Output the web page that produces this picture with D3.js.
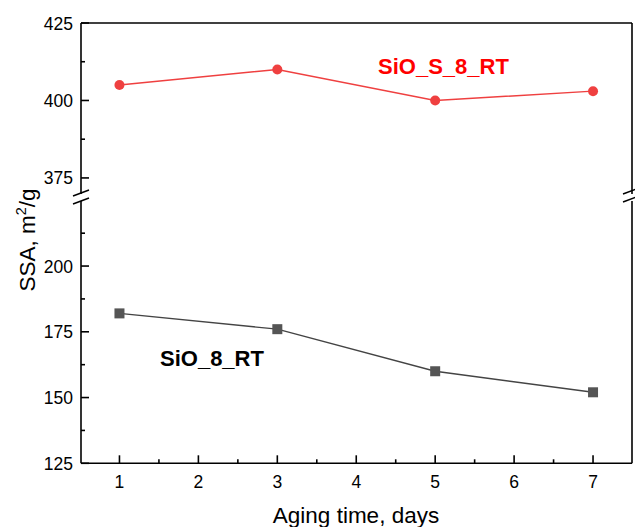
<!DOCTYPE html>
<html><head><meta charset="utf-8">
<script src="https://cdn.jsdelivr.net/npm/d3@7"></script>
<style>body{margin:0;background:#fff}svg{display:block}text{font-family:"Liberation Sans",Arial,sans-serif}</style>
</head><body><svg id="c" width="635" height="527"></svg>
<script>
const days = [1, 3, 5, 7];
const sioS8 = [405, 410, 400, 403];
const sio8 = [182, 176, 160, 152];
const xTicks = [1, 2, 3, 4, 5, 6, 7];
const yTicksUpper = [375, 400, 425];
const yTicksLower = [125, 150, 175, 200];

const svg = d3.select("#c");
const L = 81, R = 632;
const x = d3.scaleLinear().domain([0.5, 7.5]).range([80, 632.5]);
const yU = d3.scaleLinear().domain([368.2, 425]).range([199, 23]);
const yL = d3.scaleLinear().domain([225, 125]).range([200.3, 463.3]);
const yBot = 463.3, yTop = 23;

const ax = svg.append("g").attr("stroke", "#000").attr("stroke-width", 1.6).attr("fill", "none");
ax.append("line").attr("x1", L).attr("x2", R).attr("y1", yBot).attr("y2", yBot);
ax.append("line").attr("x1", L).attr("x2", R).attr("y1", yTop).attr("y2", yTop);
[L, R].forEach(px => {
  ax.append("line").attr("x1", px).attr("x2", px).attr("y1", yTop).attr("y2", 194);
  ax.append("line").attr("x1", px).attr("x2", px).attr("y1", 201).attr("y2", yBot);
});
[[L, 197], [R - 1, 195]].forEach(([px, py]) => {
  [-4, 4].forEach(d => {
    ax.append("line").attr("x1", px - 8).attr("x2", px + 8)
      .attr("y1", py + d + 3).attr("y2", py + d - 3);
  });
});
const minorX = d3.range(1.5, 7.5, 1);
xTicks.forEach(t => ax.append("line").attr("x1", x(t)).attr("x2", x(t)).attr("y1", yBot).attr("y2", yBot - 8));
minorX.forEach(t => ax.append("line").attr("x1", x(t)).attr("x2", x(t)).attr("y1", yBot).attr("y2", yBot - 4));
yTicksUpper.forEach(t => ax.append("line").attr("x1", L).attr("x2", L + 8).attr("y1", yU(t)).attr("y2", yU(t)));
[387.5, 412.5].forEach(t => ax.append("line").attr("x1", L).attr("x2", L + 4).attr("y1", yU(t)).attr("y2", yU(t)));
yTicksLower.forEach(t => ax.append("line").attr("x1", L).attr("x2", L + 8).attr("y1", yL(t)).attr("y2", yL(t)));
[137.5, 162.5, 187.5, 212.5].forEach(t => ax.append("line").attr("x1", L).attr("x2", L + 4).attr("y1", yL(t)).attr("y2", yL(t)));

const lab = svg.append("g").attr("font-size", 17.5).attr("fill", "#000");
xTicks.forEach(t => lab.append("text").attr("x", x(t)).attr("y", 488).attr("text-anchor", "middle").text(t));
yTicksUpper.forEach(t => lab.append("text").attr("x", L - 8).attr("y", yU(t) + 6.5).attr("text-anchor", "end").text(t));
yTicksLower.forEach(t => lab.append("text").attr("x", L - 8).attr("y", yL(t) + 6.5).attr("text-anchor", "end").text(t));

svg.append("text").attr("x", 356).attr("y", 523).attr("text-anchor", "middle").attr("font-size", 22.5).text("Aging time, days");
const yt = svg.append("text").attr("transform", "translate(35,240) rotate(-90)").attr("text-anchor", "middle").attr("font-size", 22.5);
yt.append("tspan").text("SSA, m");
yt.append("tspan").attr("font-size", 14.5).attr("dy", -9).text("2");
yt.append("tspan").attr("dy", 9).text("/g");

const red = "#ef4040", gray = "#444";
const lineU = d3.line().x((d, i) => x(days[i])).y(d => yU(d));
const lineL = d3.line().x((d, i) => x(days[i])).y(d => yL(d));
svg.append("path").attr("d", lineU(sioS8)).attr("fill", "none").attr("stroke", red).attr("stroke-width", 1.4);
svg.selectAll(".rd").data(sioS8).join("circle").attr("cx", (d, i) => x(days[i])).attr("cy", d => yU(d)).attr("r", 5).attr("fill", red);
svg.append("path").attr("d", lineL(sio8)).attr("fill", "none").attr("stroke", gray).attr("stroke-width", 1.4);
svg.selectAll(".sq").data(sio8).join("rect").attr("x", (d, i) => x(days[i]) - 5).attr("y", d => yL(d) - 5).attr("width", 10).attr("height", 10).attr("fill", "#555");

svg.append("text").attr("x", 378).attr("y", 74).attr("font-size", 22).attr("font-weight", "bold").attr("fill", "#ff0000").text("SiO_S_8_RT");
svg.append("text").attr("x", 160).attr("y", 366).attr("font-size", 22).attr("font-weight", "bold").attr("fill", "#000").text("SiO_8_RT");
</script></body></html>
